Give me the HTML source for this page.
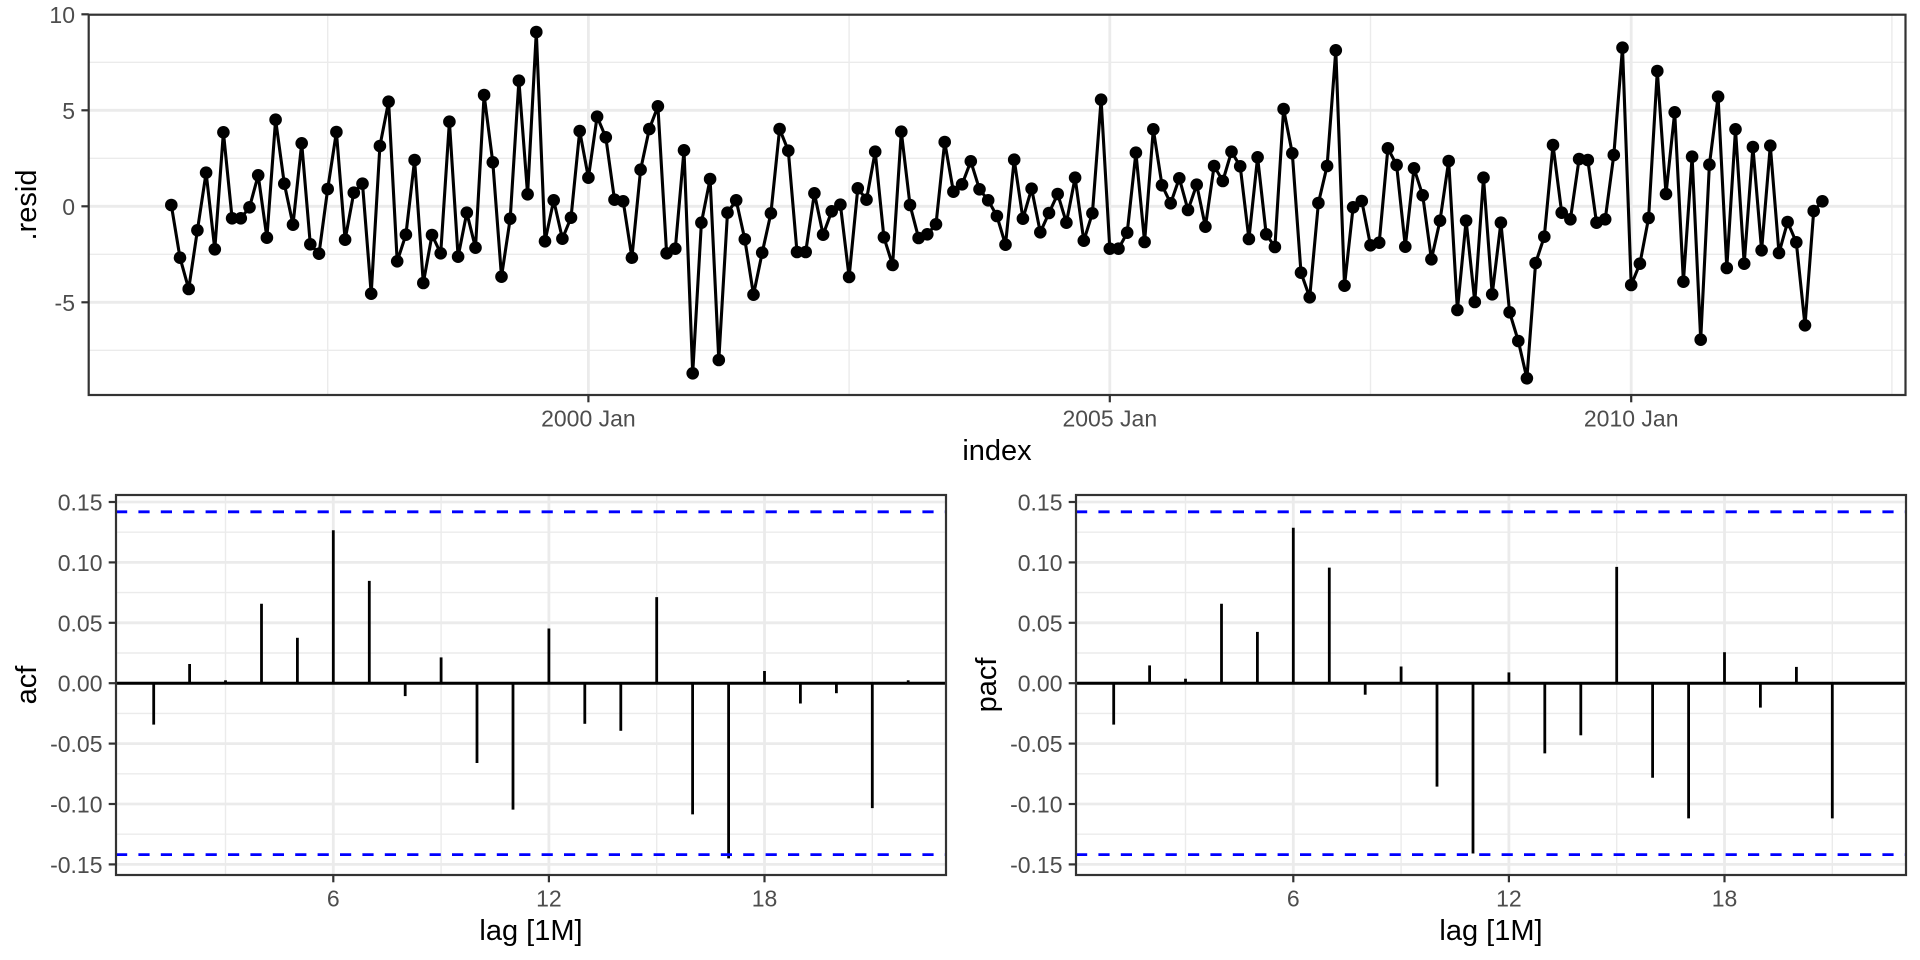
<!DOCTYPE html>
<html><head><meta charset="utf-8"><style>
html,body{margin:0;padding:0;background:#fff}
svg{display:block}
text{font-family:"Liberation Sans",Arial,sans-serif}
.tk{font-size:23px;fill:#4D4D4D}
.ti{font-size:29px;fill:#000}
.gmin{stroke:#EBEBEB;stroke-width:1.4}
.gmaj{stroke:#EBEBEB;stroke-width:2.8}
.tick{stroke:#333333;stroke-width:2.2}
.bar{stroke:#000;stroke-width:2.8}
</style></head><body>
<svg width="1920" height="960" viewBox="0 0 1920 960" xmlns="http://www.w3.org/2000/svg">
<rect x="0" y="0" width="1920" height="960" fill="#fff"/>
<defs>
<clipPath id="cTop"><rect x="88.7" y="14.7" width="1816.8" height="380.3"/></clipPath>
<clipPath id="cAcf"><rect x="116" y="495" width="830" height="380"/></clipPath>
<clipPath id="cPacf"><rect x="1076" y="495" width="830" height="380"/></clipPath>
</defs>

<!-- ================= TOP PANEL ================= -->
<g clip-path="url(#cTop)">
<g class="gmin">
<line x1="88.7" x2="1905.5" y1="62.3" y2="62.3"/>
<line x1="88.7" x2="1905.5" y1="158.3" y2="158.3"/>
<line x1="88.7" x2="1905.5" y1="254.3" y2="254.3"/>
<line x1="88.7" x2="1905.5" y1="350.3" y2="350.3"/>
<line x1="327.7" x2="327.7" y1="14.7" y2="395"/>
<line x1="849.1" x2="849.1" y1="14.7" y2="395"/>
<line x1="1370.5" x2="1370.5" y1="14.7" y2="395"/>
<line x1="1891.9" x2="1891.9" y1="14.7" y2="395"/>
</g>
<g class="gmaj">
<line x1="88.7" x2="1905.5" y1="14.3" y2="14.3"/>
<line x1="88.7" x2="1905.5" y1="110.3" y2="110.3"/>
<line x1="88.7" x2="1905.5" y1="206.3" y2="206.3"/>
<line x1="88.7" x2="1905.5" y1="302.3" y2="302.3"/>
<line x1="588.4" x2="588.4" y1="14.7" y2="395"/>
<line x1="1109.8" x2="1109.8" y1="14.7" y2="395"/>
<line x1="1631.2" x2="1631.2" y1="14.7" y2="395"/>
</g>
<polyline fill="none" stroke="#000" stroke-width="3.1" stroke-linejoin="round" points="171.3,205.0 180.0,257.7 188.7,289.0 197.4,230.3 206.1,172.7 214.8,249.3 223.4,132.3 232.1,218.3 240.8,218.3 249.5,207.3 258.2,175.3 266.9,237.7 275.6,119.7 284.3,183.7 293.0,224.7 301.7,143.3 310.3,244.3 319.0,253.7 327.7,189.0 336.4,132.0 345.1,239.7 353.8,192.7 362.5,183.7 371.2,293.7 379.9,146.0 388.6,101.7 397.2,261.3 405.9,234.7 414.6,160.0 423.3,283.0 432.0,235.0 440.7,253.3 449.4,121.7 458.1,256.7 466.8,212.7 475.5,247.7 484.1,95.0 492.8,162.3 501.5,276.7 510.2,218.7 518.9,80.7 527.6,194.3 536.3,32.0 545.0,241.3 553.7,200.3 562.4,238.7 571.0,217.7 579.7,131.0 588.4,177.7 597.1,116.7 605.8,137.3 614.5,199.7 623.2,201.3 631.9,257.7 640.6,169.7 649.3,129.0 657.9,106.3 666.6,253.3 675.3,248.7 684.0,150.3 692.7,373.3 701.4,222.7 710.1,179.0 718.8,360.0 727.5,212.7 736.2,200.3 744.8,239.3 753.5,294.7 762.2,252.7 770.9,213.3 779.6,129.0 788.3,150.7 797.0,252.0 805.7,252.0 814.4,193.3 823.1,234.7 831.7,211.3 840.4,204.7 849.1,277.0 857.8,188.3 866.5,199.7 875.2,151.7 883.9,237.3 892.6,265.0 901.3,131.7 910.0,205.0 918.6,238.0 927.3,234.3 936.0,224.3 944.7,142.0 953.4,191.7 962.1,184.3 970.8,161.3 979.5,189.3 988.2,200.3 996.9,216.0 1005.5,244.7 1014.2,159.7 1022.9,218.7 1031.6,188.7 1040.3,232.3 1049.0,213.0 1057.7,194.0 1066.4,222.7 1075.1,177.7 1083.8,240.7 1092.4,213.3 1101.1,99.7 1109.8,248.7 1118.5,248.7 1127.2,232.7 1135.9,152.7 1144.6,242.0 1153.3,129.3 1162.0,185.3 1170.7,203.3 1179.3,178.3 1188.0,210.0 1196.7,184.7 1205.4,226.7 1214.1,166.0 1222.8,181.0 1231.5,151.7 1240.2,166.3 1248.9,239.0 1257.6,157.3 1266.2,234.3 1274.9,247.0 1283.6,109.0 1292.3,153.3 1301.0,272.7 1309.7,297.3 1318.4,203.0 1327.1,166.0 1335.8,50.3 1344.5,285.7 1353.1,207.3 1361.8,201.0 1370.5,245.3 1379.2,242.7 1387.9,148.3 1396.6,165.0 1405.3,246.7 1414.0,168.3 1422.7,195.3 1431.4,259.3 1440.0,220.7 1448.7,161.0 1457.4,310.0 1466.1,220.7 1474.8,302.0 1483.5,177.7 1492.2,294.3 1500.9,222.7 1509.6,312.3 1518.3,341.0 1526.9,378.3 1535.6,263.0 1544.3,236.7 1553.0,145.0 1561.7,212.7 1570.4,219.3 1579.1,159.0 1587.8,160.0 1596.5,222.7 1605.2,219.3 1613.8,155.0 1622.5,47.7 1631.2,285.0 1639.9,263.7 1648.6,218.0 1657.3,71.0 1666.0,194.0 1674.7,112.3 1683.4,281.7 1692.1,156.7 1700.7,339.7 1709.4,164.7 1718.1,96.7 1726.8,268.0 1735.5,129.3 1744.2,263.7 1752.9,147.0 1761.6,250.3 1770.3,145.7 1779.0,253.0 1787.6,222.0 1796.3,242.3 1805.0,325.3 1813.7,211.0 1822.4,201.3"/>
<g fill="#000">
<circle cx="171.3" cy="205.0" r="6.3"/><circle cx="180.0" cy="257.7" r="6.3"/><circle cx="188.7" cy="289.0" r="6.3"/><circle cx="197.4" cy="230.3" r="6.3"/><circle cx="206.1" cy="172.7" r="6.3"/><circle cx="214.8" cy="249.3" r="6.3"/><circle cx="223.4" cy="132.3" r="6.3"/><circle cx="232.1" cy="218.3" r="6.3"/><circle cx="240.8" cy="218.3" r="6.3"/><circle cx="249.5" cy="207.3" r="6.3"/>
<circle cx="258.2" cy="175.3" r="6.3"/><circle cx="266.9" cy="237.7" r="6.3"/><circle cx="275.6" cy="119.7" r="6.3"/><circle cx="284.3" cy="183.7" r="6.3"/><circle cx="293.0" cy="224.7" r="6.3"/><circle cx="301.7" cy="143.3" r="6.3"/><circle cx="310.3" cy="244.3" r="6.3"/><circle cx="319.0" cy="253.7" r="6.3"/><circle cx="327.7" cy="189.0" r="6.3"/><circle cx="336.4" cy="132.0" r="6.3"/>
<circle cx="345.1" cy="239.7" r="6.3"/><circle cx="353.8" cy="192.7" r="6.3"/><circle cx="362.5" cy="183.7" r="6.3"/><circle cx="371.2" cy="293.7" r="6.3"/><circle cx="379.9" cy="146.0" r="6.3"/><circle cx="388.6" cy="101.7" r="6.3"/><circle cx="397.2" cy="261.3" r="6.3"/><circle cx="405.9" cy="234.7" r="6.3"/><circle cx="414.6" cy="160.0" r="6.3"/><circle cx="423.3" cy="283.0" r="6.3"/>
<circle cx="432.0" cy="235.0" r="6.3"/><circle cx="440.7" cy="253.3" r="6.3"/><circle cx="449.4" cy="121.7" r="6.3"/><circle cx="458.1" cy="256.7" r="6.3"/><circle cx="466.8" cy="212.7" r="6.3"/><circle cx="475.5" cy="247.7" r="6.3"/><circle cx="484.1" cy="95.0" r="6.3"/><circle cx="492.8" cy="162.3" r="6.3"/><circle cx="501.5" cy="276.7" r="6.3"/><circle cx="510.2" cy="218.7" r="6.3"/>
<circle cx="518.9" cy="80.7" r="6.3"/><circle cx="527.6" cy="194.3" r="6.3"/><circle cx="536.3" cy="32.0" r="6.3"/><circle cx="545.0" cy="241.3" r="6.3"/><circle cx="553.7" cy="200.3" r="6.3"/><circle cx="562.4" cy="238.7" r="6.3"/><circle cx="571.0" cy="217.7" r="6.3"/><circle cx="579.7" cy="131.0" r="6.3"/><circle cx="588.4" cy="177.7" r="6.3"/><circle cx="597.1" cy="116.7" r="6.3"/>
<circle cx="605.8" cy="137.3" r="6.3"/><circle cx="614.5" cy="199.7" r="6.3"/><circle cx="623.2" cy="201.3" r="6.3"/><circle cx="631.9" cy="257.7" r="6.3"/><circle cx="640.6" cy="169.7" r="6.3"/><circle cx="649.3" cy="129.0" r="6.3"/><circle cx="657.9" cy="106.3" r="6.3"/><circle cx="666.6" cy="253.3" r="6.3"/><circle cx="675.3" cy="248.7" r="6.3"/><circle cx="684.0" cy="150.3" r="6.3"/>
<circle cx="692.7" cy="373.3" r="6.3"/><circle cx="701.4" cy="222.7" r="6.3"/><circle cx="710.1" cy="179.0" r="6.3"/><circle cx="718.8" cy="360.0" r="6.3"/><circle cx="727.5" cy="212.7" r="6.3"/><circle cx="736.2" cy="200.3" r="6.3"/><circle cx="744.8" cy="239.3" r="6.3"/><circle cx="753.5" cy="294.7" r="6.3"/><circle cx="762.2" cy="252.7" r="6.3"/><circle cx="770.9" cy="213.3" r="6.3"/>
<circle cx="779.6" cy="129.0" r="6.3"/><circle cx="788.3" cy="150.7" r="6.3"/><circle cx="797.0" cy="252.0" r="6.3"/><circle cx="805.7" cy="252.0" r="6.3"/><circle cx="814.4" cy="193.3" r="6.3"/><circle cx="823.1" cy="234.7" r="6.3"/><circle cx="831.7" cy="211.3" r="6.3"/><circle cx="840.4" cy="204.7" r="6.3"/><circle cx="849.1" cy="277.0" r="6.3"/><circle cx="857.8" cy="188.3" r="6.3"/>
<circle cx="866.5" cy="199.7" r="6.3"/><circle cx="875.2" cy="151.7" r="6.3"/><circle cx="883.9" cy="237.3" r="6.3"/><circle cx="892.6" cy="265.0" r="6.3"/><circle cx="901.3" cy="131.7" r="6.3"/><circle cx="910.0" cy="205.0" r="6.3"/><circle cx="918.6" cy="238.0" r="6.3"/><circle cx="927.3" cy="234.3" r="6.3"/><circle cx="936.0" cy="224.3" r="6.3"/><circle cx="944.7" cy="142.0" r="6.3"/>
<circle cx="953.4" cy="191.7" r="6.3"/><circle cx="962.1" cy="184.3" r="6.3"/><circle cx="970.8" cy="161.3" r="6.3"/><circle cx="979.5" cy="189.3" r="6.3"/><circle cx="988.2" cy="200.3" r="6.3"/><circle cx="996.9" cy="216.0" r="6.3"/><circle cx="1005.5" cy="244.7" r="6.3"/><circle cx="1014.2" cy="159.7" r="6.3"/><circle cx="1022.9" cy="218.7" r="6.3"/><circle cx="1031.6" cy="188.7" r="6.3"/>
<circle cx="1040.3" cy="232.3" r="6.3"/><circle cx="1049.0" cy="213.0" r="6.3"/><circle cx="1057.7" cy="194.0" r="6.3"/><circle cx="1066.4" cy="222.7" r="6.3"/><circle cx="1075.1" cy="177.7" r="6.3"/><circle cx="1083.8" cy="240.7" r="6.3"/><circle cx="1092.4" cy="213.3" r="6.3"/><circle cx="1101.1" cy="99.7" r="6.3"/><circle cx="1109.8" cy="248.7" r="6.3"/><circle cx="1118.5" cy="248.7" r="6.3"/>
<circle cx="1127.2" cy="232.7" r="6.3"/><circle cx="1135.9" cy="152.7" r="6.3"/><circle cx="1144.6" cy="242.0" r="6.3"/><circle cx="1153.3" cy="129.3" r="6.3"/><circle cx="1162.0" cy="185.3" r="6.3"/><circle cx="1170.7" cy="203.3" r="6.3"/><circle cx="1179.3" cy="178.3" r="6.3"/><circle cx="1188.0" cy="210.0" r="6.3"/><circle cx="1196.7" cy="184.7" r="6.3"/><circle cx="1205.4" cy="226.7" r="6.3"/>
<circle cx="1214.1" cy="166.0" r="6.3"/><circle cx="1222.8" cy="181.0" r="6.3"/><circle cx="1231.5" cy="151.7" r="6.3"/><circle cx="1240.2" cy="166.3" r="6.3"/><circle cx="1248.9" cy="239.0" r="6.3"/><circle cx="1257.6" cy="157.3" r="6.3"/><circle cx="1266.2" cy="234.3" r="6.3"/><circle cx="1274.9" cy="247.0" r="6.3"/><circle cx="1283.6" cy="109.0" r="6.3"/><circle cx="1292.3" cy="153.3" r="6.3"/>
<circle cx="1301.0" cy="272.7" r="6.3"/><circle cx="1309.7" cy="297.3" r="6.3"/><circle cx="1318.4" cy="203.0" r="6.3"/><circle cx="1327.1" cy="166.0" r="6.3"/><circle cx="1335.8" cy="50.3" r="6.3"/><circle cx="1344.5" cy="285.7" r="6.3"/><circle cx="1353.1" cy="207.3" r="6.3"/><circle cx="1361.8" cy="201.0" r="6.3"/><circle cx="1370.5" cy="245.3" r="6.3"/><circle cx="1379.2" cy="242.7" r="6.3"/>
<circle cx="1387.9" cy="148.3" r="6.3"/><circle cx="1396.6" cy="165.0" r="6.3"/><circle cx="1405.3" cy="246.7" r="6.3"/><circle cx="1414.0" cy="168.3" r="6.3"/><circle cx="1422.7" cy="195.3" r="6.3"/><circle cx="1431.4" cy="259.3" r="6.3"/><circle cx="1440.0" cy="220.7" r="6.3"/><circle cx="1448.7" cy="161.0" r="6.3"/><circle cx="1457.4" cy="310.0" r="6.3"/><circle cx="1466.1" cy="220.7" r="6.3"/>
<circle cx="1474.8" cy="302.0" r="6.3"/><circle cx="1483.5" cy="177.7" r="6.3"/><circle cx="1492.2" cy="294.3" r="6.3"/><circle cx="1500.9" cy="222.7" r="6.3"/><circle cx="1509.6" cy="312.3" r="6.3"/><circle cx="1518.3" cy="341.0" r="6.3"/><circle cx="1526.9" cy="378.3" r="6.3"/><circle cx="1535.6" cy="263.0" r="6.3"/><circle cx="1544.3" cy="236.7" r="6.3"/><circle cx="1553.0" cy="145.0" r="6.3"/>
<circle cx="1561.7" cy="212.7" r="6.3"/><circle cx="1570.4" cy="219.3" r="6.3"/><circle cx="1579.1" cy="159.0" r="6.3"/><circle cx="1587.8" cy="160.0" r="6.3"/><circle cx="1596.5" cy="222.7" r="6.3"/><circle cx="1605.2" cy="219.3" r="6.3"/><circle cx="1613.8" cy="155.0" r="6.3"/><circle cx="1622.5" cy="47.7" r="6.3"/><circle cx="1631.2" cy="285.0" r="6.3"/><circle cx="1639.9" cy="263.7" r="6.3"/>
<circle cx="1648.6" cy="218.0" r="6.3"/><circle cx="1657.3" cy="71.0" r="6.3"/><circle cx="1666.0" cy="194.0" r="6.3"/><circle cx="1674.7" cy="112.3" r="6.3"/><circle cx="1683.4" cy="281.7" r="6.3"/><circle cx="1692.1" cy="156.7" r="6.3"/><circle cx="1700.7" cy="339.7" r="6.3"/><circle cx="1709.4" cy="164.7" r="6.3"/><circle cx="1718.1" cy="96.7" r="6.3"/><circle cx="1726.8" cy="268.0" r="6.3"/>
<circle cx="1735.5" cy="129.3" r="6.3"/><circle cx="1744.2" cy="263.7" r="6.3"/><circle cx="1752.9" cy="147.0" r="6.3"/><circle cx="1761.6" cy="250.3" r="6.3"/><circle cx="1770.3" cy="145.7" r="6.3"/><circle cx="1779.0" cy="253.0" r="6.3"/><circle cx="1787.6" cy="222.0" r="6.3"/><circle cx="1796.3" cy="242.3" r="6.3"/><circle cx="1805.0" cy="325.3" r="6.3"/><circle cx="1813.7" cy="211.0" r="6.3"/>
<circle cx="1822.4" cy="201.3" r="6.3"/>
</g>
</g>
<rect x="88.7" y="14.7" width="1816.8" height="380.3" fill="none" stroke="#333333" stroke-width="2.2"/>
<g class="tick">
<line x1="81.4" x2="88.7" y1="14.3" y2="14.3"/>
<line x1="81.4" x2="88.7" y1="110.3" y2="110.3"/>
<line x1="81.4" x2="88.7" y1="206.3" y2="206.3"/>
<line x1="81.4" x2="88.7" y1="302.3" y2="302.3"/>
<line x1="588.4" x2="588.4" y1="395" y2="402.3"/>
<line x1="1109.8" x2="1109.8" y1="395" y2="402.3"/>
<line x1="1631.2" x2="1631.2" y1="395" y2="402.3"/>
</g>
<g class="tk" text-anchor="end">
<text x="75" y="22.8">10</text>
<text x="75" y="118.8">5</text>
<text x="75" y="214.8">0</text>
<text x="75" y="310.8">-5</text>
</g>
<g class="tk" text-anchor="middle">
<text x="588.4" y="426.7">2000 Jan</text>
<text x="1109.8" y="426.7">2005 Jan</text>
<text x="1631.2" y="426.7">2010 Jan</text>
</g>
<text class="ti" x="997" y="460" text-anchor="middle">index</text>
<text class="ti" transform="translate(36,205) rotate(-90)" text-anchor="middle">.resid</text>

<!-- ================= ACF PANEL ================= -->
<g clip-path="url(#cAcf)">
<g class="gmin">
<line x1="116" x2="946" y1="532.2" y2="532.2"/>
<line x1="116" x2="946" y1="592.6" y2="592.6"/>
<line x1="116" x2="946" y1="653.0" y2="653.0"/>
<line x1="116" x2="946" y1="713.4" y2="713.4"/>
<line x1="116" x2="946" y1="773.8" y2="773.8"/>
<line x1="116" x2="946" y1="834.2" y2="834.2"/>
<line x1="225.5" x2="225.5" y1="495" y2="875"/>
<line x1="441.1" x2="441.1" y1="495" y2="875"/>
<line x1="656.7" x2="656.7" y1="495" y2="875"/>
<line x1="872.3" x2="872.3" y1="495" y2="875"/>
</g>
<g class="gmaj">
<line x1="116" x2="946" y1="502" y2="502"/>
<line x1="116" x2="946" y1="562.4" y2="562.4"/>
<line x1="116" x2="946" y1="622.8" y2="622.8"/>
<line x1="116" x2="946" y1="683.2" y2="683.2"/>
<line x1="116" x2="946" y1="743.6" y2="743.6"/>
<line x1="116" x2="946" y1="804" y2="804"/>
<line x1="116" x2="946" y1="864.4" y2="864.4"/>
<line x1="333.3" x2="333.3" y1="495" y2="875"/>
<line x1="548.9" x2="548.9" y1="495" y2="875"/>
<line x1="764.5" x2="764.5" y1="495" y2="875"/>
</g>
<g class="bar">
<line x1="153.7" x2="153.7" y1="683.2" y2="724.6"/>
<line x1="189.6" x2="189.6" y1="683.2" y2="664.0"/>
<line x1="225.5" x2="225.5" y1="683.2" y2="680.3"/>
<line x1="261.5" x2="261.5" y1="683.2" y2="603.8"/>
<line x1="297.4" x2="297.4" y1="683.2" y2="637.8"/>
<line x1="333.3" x2="333.3" y1="683.2" y2="530.3"/>
<line x1="369.3" x2="369.3" y1="683.2" y2="580.9"/>
<line x1="405.2" x2="405.2" y1="683.2" y2="696.1"/>
<line x1="441.1" x2="441.1" y1="683.2" y2="657.4"/>
<line x1="477.0" x2="477.0" y1="683.2" y2="763.0"/>
<line x1="513.0" x2="513.0" y1="683.2" y2="809.6"/>
<line x1="548.9" x2="548.9" y1="683.2" y2="628.5"/>
<line x1="584.8" x2="584.8" y1="683.2" y2="723.8"/>
<line x1="620.8" x2="620.8" y1="683.2" y2="730.8"/>
<line x1="656.7" x2="656.7" y1="683.2" y2="597.1"/>
<line x1="692.6" x2="692.6" y1="683.2" y2="814.4"/>
<line x1="728.6" x2="728.6" y1="683.2" y2="858.4"/>
<line x1="764.5" x2="764.5" y1="683.2" y2="671.0"/>
<line x1="800.4" x2="800.4" y1="683.2" y2="703.5"/>
<line x1="836.4" x2="836.4" y1="683.2" y2="693.2"/>
<line x1="872.3" x2="872.3" y1="683.2" y2="808.1"/>
<line x1="908.2" x2="908.2" y1="683.2" y2="680.3"/>
</g>
<line x1="116" x2="946" y1="683.2" y2="683.2" stroke="#000" stroke-width="3"/>
<line x1="116" x2="946" y1="511.8" y2="511.8" stroke="#0000FF" stroke-width="2.8" stroke-dasharray="11.2 11.2"/>
<line x1="116" x2="946" y1="854.6" y2="854.6" stroke="#0000FF" stroke-width="2.8" stroke-dasharray="11.2 11.2"/>
</g>
<rect x="116" y="495" width="830" height="380" fill="none" stroke="#333333" stroke-width="2.2"/>
<g class="tick">
<line x1="108.7" x2="116" y1="502" y2="502"/>
<line x1="108.7" x2="116" y1="562.4" y2="562.4"/>
<line x1="108.7" x2="116" y1="622.8" y2="622.8"/>
<line x1="108.7" x2="116" y1="683.2" y2="683.2"/>
<line x1="108.7" x2="116" y1="743.6" y2="743.6"/>
<line x1="108.7" x2="116" y1="804" y2="804"/>
<line x1="108.7" x2="116" y1="864.4" y2="864.4"/>
<line x1="333.3" x2="333.3" y1="875" y2="882.3"/>
<line x1="548.9" x2="548.9" y1="875" y2="882.3"/>
<line x1="764.5" x2="764.5" y1="875" y2="882.3"/>
</g>
<g class="tk" text-anchor="end">
<text x="102.5" y="510.5">0.15</text>
<text x="102.5" y="570.9">0.10</text>
<text x="102.5" y="631.3">0.05</text>
<text x="102.5" y="691.7">0.00</text>
<text x="102.5" y="752.1">-0.05</text>
<text x="102.5" y="812.5">-0.10</text>
<text x="102.5" y="872.9">-0.15</text>
</g>
<g class="tk" text-anchor="middle">
<text x="333.3" y="906.7">6</text>
<text x="548.9" y="906.7">12</text>
<text x="764.5" y="906.7">18</text>
</g>
<text class="ti" x="531" y="940" text-anchor="middle">lag [1M]</text>
<text class="ti" transform="translate(36,685) rotate(-90)" text-anchor="middle">acf</text>

<!-- ================= PACF PANEL ================= -->
<g clip-path="url(#cPacf)">
<g class="gmin">
<line x1="1076" x2="1906" y1="532.2" y2="532.2"/>
<line x1="1076" x2="1906" y1="592.6" y2="592.6"/>
<line x1="1076" x2="1906" y1="653.0" y2="653.0"/>
<line x1="1076" x2="1906" y1="713.4" y2="713.4"/>
<line x1="1076" x2="1906" y1="773.8" y2="773.8"/>
<line x1="1076" x2="1906" y1="834.2" y2="834.2"/>
<line x1="1185.5" x2="1185.5" y1="495" y2="875"/>
<line x1="1401.1" x2="1401.1" y1="495" y2="875"/>
<line x1="1616.7" x2="1616.7" y1="495" y2="875"/>
<line x1="1832.3" x2="1832.3" y1="495" y2="875"/>
</g>
<g class="gmaj">
<line x1="1076" x2="1906" y1="502" y2="502"/>
<line x1="1076" x2="1906" y1="562.4" y2="562.4"/>
<line x1="1076" x2="1906" y1="622.8" y2="622.8"/>
<line x1="1076" x2="1906" y1="683.2" y2="683.2"/>
<line x1="1076" x2="1906" y1="743.6" y2="743.6"/>
<line x1="1076" x2="1906" y1="804" y2="804"/>
<line x1="1076" x2="1906" y1="864.4" y2="864.4"/>
<line x1="1293.3" x2="1293.3" y1="495" y2="875"/>
<line x1="1508.9" x2="1508.9" y1="495" y2="875"/>
<line x1="1724.5" x2="1724.5" y1="495" y2="875"/>
</g>
<g class="bar">
<line x1="1113.7" x2="1113.7" y1="683.2" y2="724.6"/>
<line x1="1149.6" x2="1149.6" y1="683.2" y2="665.4"/>
<line x1="1185.5" x2="1185.5" y1="683.2" y2="678.7"/>
<line x1="1221.5" x2="1221.5" y1="683.2" y2="603.8"/>
<line x1="1257.4" x2="1257.4" y1="683.2" y2="631.9"/>
<line x1="1293.3" x2="1293.3" y1="683.2" y2="527.7"/>
<line x1="1329.3" x2="1329.3" y1="683.2" y2="567.6"/>
<line x1="1365.2" x2="1365.2" y1="683.2" y2="694.7"/>
<line x1="1401.1" x2="1401.1" y1="683.2" y2="666.5"/>
<line x1="1437.0" x2="1437.0" y1="683.2" y2="786.6"/>
<line x1="1473.0" x2="1473.0" y1="683.2" y2="853.5"/>
<line x1="1508.9" x2="1508.9" y1="683.2" y2="672.4"/>
<line x1="1544.8" x2="1544.8" y1="683.2" y2="753.4"/>
<line x1="1580.8" x2="1580.8" y1="683.2" y2="735.3"/>
<line x1="1616.7" x2="1616.7" y1="683.2" y2="566.9"/>
<line x1="1652.6" x2="1652.6" y1="683.2" y2="777.8"/>
<line x1="1688.6" x2="1688.6" y1="683.2" y2="818.4"/>
<line x1="1724.5" x2="1724.5" y1="683.2" y2="652.2"/>
<line x1="1760.4" x2="1760.4" y1="683.2" y2="707.6"/>
<line x1="1796.4" x2="1796.4" y1="683.2" y2="666.9"/>
<line x1="1832.3" x2="1832.3" y1="683.2" y2="818.4"/>
</g>
<line x1="1076" x2="1906" y1="683.2" y2="683.2" stroke="#000" stroke-width="3"/>
<line x1="1076" x2="1906" y1="511.8" y2="511.8" stroke="#0000FF" stroke-width="2.8" stroke-dasharray="11.2 11.2"/>
<line x1="1076" x2="1906" y1="854.6" y2="854.6" stroke="#0000FF" stroke-width="2.8" stroke-dasharray="11.2 11.2"/>
</g>
<rect x="1076" y="495" width="830" height="380" fill="none" stroke="#333333" stroke-width="2.2"/>
<g class="tick">
<line x1="1068.7" x2="1076" y1="502" y2="502"/>
<line x1="1068.7" x2="1076" y1="562.4" y2="562.4"/>
<line x1="1068.7" x2="1076" y1="622.8" y2="622.8"/>
<line x1="1068.7" x2="1076" y1="683.2" y2="683.2"/>
<line x1="1068.7" x2="1076" y1="743.6" y2="743.6"/>
<line x1="1068.7" x2="1076" y1="804" y2="804"/>
<line x1="1068.7" x2="1076" y1="864.4" y2="864.4"/>
<line x1="1293.3" x2="1293.3" y1="875" y2="882.3"/>
<line x1="1508.9" x2="1508.9" y1="875" y2="882.3"/>
<line x1="1724.5" x2="1724.5" y1="875" y2="882.3"/>
</g>
<g class="tk" text-anchor="end">
<text x="1062.5" y="510.5">0.15</text>
<text x="1062.5" y="570.9">0.10</text>
<text x="1062.5" y="631.3">0.05</text>
<text x="1062.5" y="691.7">0.00</text>
<text x="1062.5" y="752.1">-0.05</text>
<text x="1062.5" y="812.5">-0.10</text>
<text x="1062.5" y="872.9">-0.15</text>
</g>
<g class="tk" text-anchor="middle">
<text x="1293.3" y="906.7">6</text>
<text x="1508.9" y="906.7">12</text>
<text x="1724.5" y="906.7">18</text>
</g>
<text class="ti" x="1491" y="940" text-anchor="middle">lag [1M]</text>
<text class="ti" transform="translate(996,685) rotate(-90)" text-anchor="middle">pacf</text>
</svg>
</body></html>
